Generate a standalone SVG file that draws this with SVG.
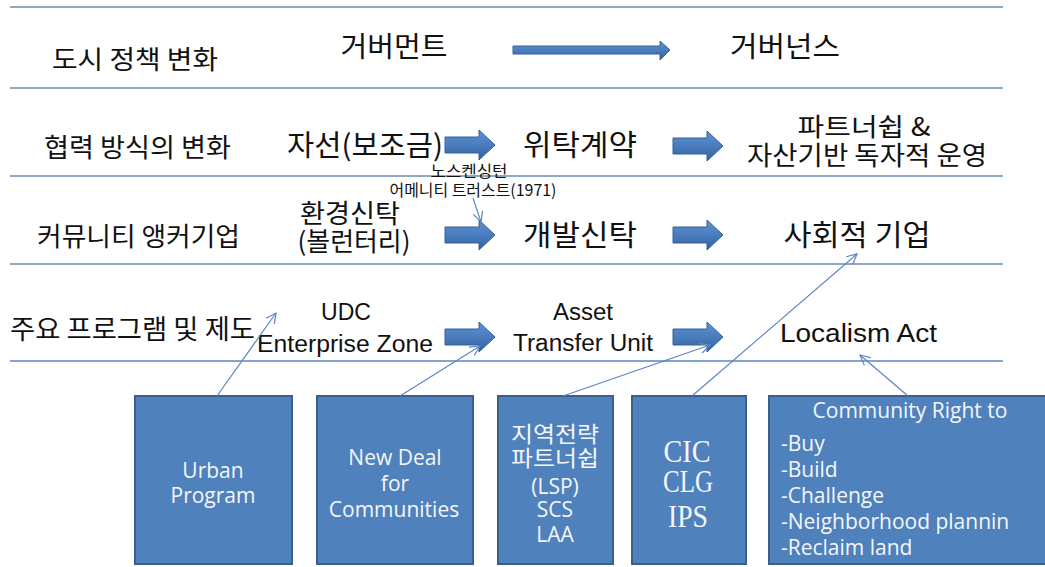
<svg xmlns="http://www.w3.org/2000/svg" width="1045" height="567" viewBox="0 0 1045 567">
  <style>
    .kr { font-family: "Noto Sans CJK KR", "Noto Sans", sans-serif; fill: #111; }
    .en { font-family: "Liberation Sans", Arial, sans-serif; fill: #111; }
    .mid { text-anchor: middle; }
    .rule { stroke: #8fa7c4; stroke-width: 2; fill: none; }
    .box { fill: #4f81bd; stroke: #3a5f8c; stroke-width: 2; }
    .bt { font-family: "Open Sans", "Noto Sans", sans-serif; fill: #f4f6fa; font-size: 21px; }
    .btk { font-family: "Noto Sans CJK KR", sans-serif; fill: #f4f6fa; font-size: 22px; text-anchor: middle; }
    .bts { font-family: "Liberation Serif", "Times New Roman", serif; fill: #f4f6fa; font-size: 32px; text-anchor: middle; }
    .blk { fill: url(#blkGrad); stroke: #35609a; stroke-width: 1; }
    .link { stroke: #5b87c2; stroke-width: 1.2; fill: none; marker-end: url(#openHead); }
  </style>
  <defs>
    <linearGradient id="blkGrad" x1="0" y1="0" x2="0" y2="1">
      <stop offset="0" stop-color="#5e91d1"/>
      <stop offset="0.5" stop-color="#4a7dbd"/>
      <stop offset="1" stop-color="#32609d"/>
    </linearGradient>
    <marker id="openHead" viewBox="0 0 12 12" refX="11" refY="6" markerWidth="12" markerHeight="12" markerUnits="userSpaceOnUse" orient="auto">
      <path d="M1,1 L11,6 L1,11" fill="none" stroke="#5b87c2" stroke-width="1.2"/>
    </marker>
    <!-- block arrow: shaft 34 long, head 16 long, centred on y=0 -->
    <path id="blockArrow" d="M0,-8 H34 V-15 L50,0 L34,15 V8 H0 Z"/>
  </defs>

  <rect width="1045" height="567" fill="#ffffff"/>

  <!-- row separators -->
  <g id="rules">
    <line class="rule" x1="10" y1="7" x2="1003" y2="7"/>
    <line class="rule" x1="10" y1="88" x2="1003" y2="88"/>
    <line class="rule" x1="10" y1="176" x2="1003" y2="176"/>
    <line class="rule" x1="10" y1="264" x2="1003" y2="264"/>
    <line x1="10" y1="361" x2="1003" y2="361" stroke="#5b87c2" stroke-width="1.5"/>
  </g>

  <!-- row 1 -->
  <g id="row1">
    <text class="kr" x="52" y="69" font-size="26" textLength="166" lengthAdjust="spacingAndGlyphs">도시 정책 변화</text>
    <text class="kr mid" x="394" y="57" font-size="28" textLength="107" lengthAdjust="spacingAndGlyphs">거버먼트</text>
    <path class="blk" d="M513,46 H660 V41 L670,50 L660,60 V54 H513 Z"/>
    <text class="kr mid" x="785" y="57" font-size="28" textLength="110" lengthAdjust="spacingAndGlyphs">거버넌스</text>
  </g>

  <!-- row 2 -->
  <g id="row2">
    <text class="kr" x="44" y="157" font-size="26" textLength="187" lengthAdjust="spacingAndGlyphs">협력 방식의 변화</text>
    <text class="kr mid" x="365" y="156" font-size="29" textLength="156" lengthAdjust="spacingAndGlyphs">자선(보조금)</text>
    <use href="#blockArrow" class="blk" x="445" y="145"/>
    <text class="kr mid" x="580" y="156" font-size="29" textLength="114" lengthAdjust="spacingAndGlyphs">위탁계약</text>
    <use href="#blockArrow" class="blk" x="673" y="146"/>
    <text class="kr mid" x="864" y="136" font-size="25" textLength="133" lengthAdjust="spacingAndGlyphs">파트너쉽 &amp;</text>
    <text class="kr mid" x="867" y="165" font-size="26" textLength="240" lengthAdjust="spacingAndGlyphs">자산기반 독자적 운영</text>
  </g>

  <!-- annotation -->
  <g id="note">
    <text class="kr mid" x="469" y="177" font-size="16" textLength="77" lengthAdjust="spacingAndGlyphs">노스켄싱턴</text>
    <text class="kr mid" x="473" y="196" font-size="16" textLength="167" lengthAdjust="spacingAndGlyphs">어메니티 트러스트(1971)</text>
  </g>

  <!-- row 3 -->
  <g id="row3">
    <text class="kr" x="37" y="246" font-size="26" textLength="203" lengthAdjust="spacingAndGlyphs">커뮤니티 앵커기업</text>
    <text class="kr mid" x="350" y="223" font-size="26" textLength="100" lengthAdjust="spacingAndGlyphs">환경신탁</text>
    <text class="kr mid" x="354" y="251" font-size="26" textLength="113" lengthAdjust="spacingAndGlyphs">(볼런터리)</text>
    <use href="#blockArrow" class="blk" x="445" y="235"/>
    <text class="kr mid" x="580" y="246" font-size="29" textLength="114" lengthAdjust="spacingAndGlyphs">개발신탁</text>
    <use href="#blockArrow" class="blk" x="673" y="235"/>
    <text class="kr mid" x="857" y="246" font-size="29" textLength="147" lengthAdjust="spacingAndGlyphs">사회적 기업</text>
  </g>

  <!-- row 4 -->
  <g id="row4">
    <text class="kr" x="10" y="339" font-size="27" textLength="245" lengthAdjust="spacingAndGlyphs">주요 프로그램 및 제도</text>
    <text class="en mid" x="346" y="320" font-size="23">UDC</text>
    <text class="en" x="257" y="352" font-size="23" textLength="176" lengthAdjust="spacingAndGlyphs">Enterprise  Zone</text>
    <use href="#blockArrow" class="blk" x="445" y="337"/>
    <text class="en" x="553" y="320" font-size="23" textLength="60" lengthAdjust="spacingAndGlyphs">Asset</text>
    <text class="en" x="513" y="351" font-size="23" textLength="140" lengthAdjust="spacingAndGlyphs">Transfer  Unit</text>
    <use href="#blockArrow" class="blk" x="673" y="337"/>
    <text class="en" x="780" y="342" font-size="26" textLength="157" lengthAdjust="spacingAndGlyphs">Localism  Act</text>
  </g>

  <!-- program boxes -->
  <g id="box-urban">
    <rect class="box" x="135" y="396" width="157" height="168"/>
    <text class="bt mid" x="213" y="478">Urban</text>
    <text class="bt mid" x="213" y="503">Program</text>
  </g>
  <g id="box-ndc">
    <rect class="box" x="317" y="396" width="156" height="168"/>
    <text class="bt mid" x="395" y="465">New Deal</text>
    <text class="bt mid" x="395" y="491">for</text>
    <text class="bt mid" x="394" y="517">Communities</text>
  </g>
  <g id="box-lsp">
    <rect class="box" x="498" y="396" width="115" height="168"/>
    <text class="btk" x="555" y="442" textLength="88" lengthAdjust="spacingAndGlyphs">지역전략</text>
    <text class="btk" x="555" y="466" textLength="88" lengthAdjust="spacingAndGlyphs">파트너쉽</text>
    <text class="bt mid" x="555" y="494">(LSP)</text>
    <text class="bt mid" x="555" y="517">SCS</text>
    <text class="bt mid" x="555" y="542">LAA</text>
  </g>
  <g id="box-cic">
    <rect class="box" x="632" y="396" width="114" height="168"/>
    <text class="bts" x="687" y="462" textLength="47" lengthAdjust="spacingAndGlyphs">CIC</text>
    <text class="bts" x="688" y="492" textLength="50" lengthAdjust="spacingAndGlyphs">CLG</text>
    <text class="bts" x="688" y="527" textLength="40" lengthAdjust="spacingAndGlyphs">IPS</text>
  </g>
  <g id="box-right">
    <rect class="box" x="769" y="396" width="280" height="168"/>
    <text class="bt" x="910" y="418" text-anchor="middle">Community Right to</text>
    <text class="bt" x="781" y="451">-Buy</text>
    <text class="bt" x="781" y="477">-Build</text>
    <text class="bt" x="781" y="503">-Challenge</text>
    <text class="bt" x="781" y="529">-Neighborhood plannin</text>
    <text class="bt" x="781" y="555">-Reclaim land</text>
  </g>

  <!-- connectors -->
  <g id="connectors">
    <line class="link" x1="217" y1="396" x2="276" y2="313"/>
    <line class="link" x1="400" y1="396" x2="480" y2="346"/>
    <line class="link" x1="563" y1="396" x2="710" y2="345"/>
    <line class="link" x1="692" y1="396" x2="857" y2="254"/>
    <line class="link" x1="908" y1="396" x2="860" y2="355"/>
    <line class="link" x1="473" y1="198" x2="481" y2="222"/>
  </g>
</svg>
